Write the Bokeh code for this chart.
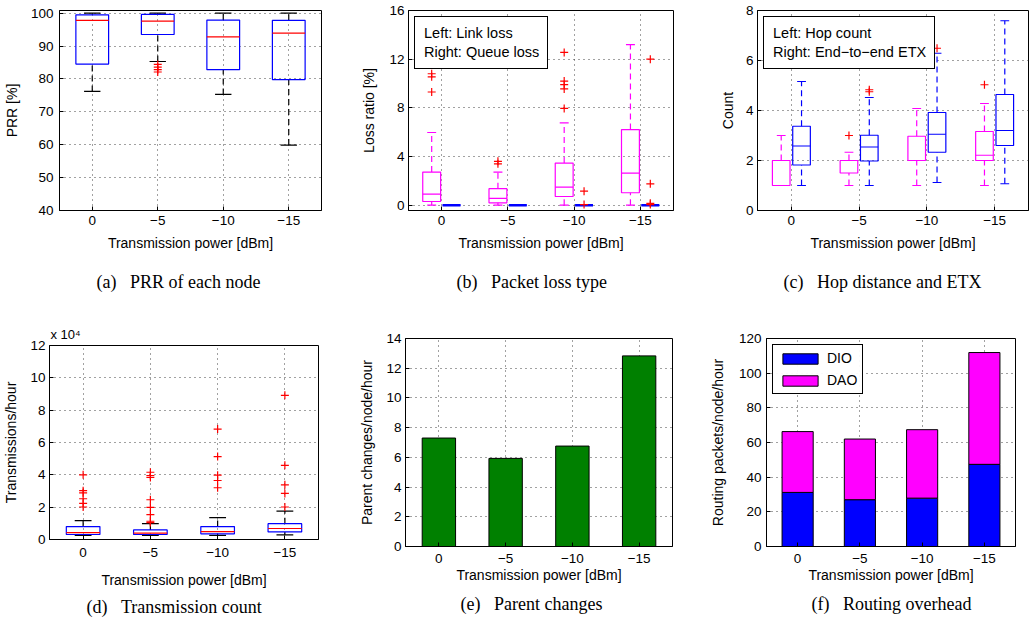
from bokeh.plotting import figure
from bokeh.layouts import column, row
from bokeh.models import (Range1d, FixedTicker, Title, Legend, LegendItem,
                          ColumnDataSource)
from bokeh.embed import file_html
from bokeh.resources import INLINE

# ---------------- data ----------------
powers = ["0", "\u22125", "\u221210", "\u221215"]
pos = [1, 2, 3, 4]

# (a) PRR of each node [%]
prr_q1 = [84.5, 93.5, 82.8, 79.8]
prr_med = [97.8, 97.6, 92.8, 93.9]
prr_q3 = [99.5, 99.6, 97.9, 97.8]
prr_lo = [76.2, 85.3, 75.3, 59.9]
prr_hi = [100.0, 100.0, 100.0, 100.0]
prr_out = [[], [84.4, 83.6, 82.8, 82.1], [], []]

# (b) packet loss type [%]
link_q1 = [0.30, 0.19, 0.71, 1.02]
link_med = [0.91, 0.55, 1.48, 2.64]
link_q3 = [2.72, 1.35, 3.46, 6.21]
link_lo = [0.0, 0.0, 0.0, 0.0]
link_hi = [5.97, 2.72, 6.76, 13.2]
link_out = [[10.8, 10.55, 9.3], [3.6, 3.4], [12.55, 10.2, 9.9, 9.55, 7.95], []]
queue_q1 = [0.0, 0.0, 0.0, 0.0]
queue_med = [0.0, 0.0, 0.0, 0.0]
queue_q3 = [0.0, 0.0, 0.0, 0.0]
queue_lo = [0.0, 0.0, 0.0, 0.0]
queue_hi = [0.0, 0.0, 0.0, 0.0]
queue_out = [[], [], [1.15, 0.05], [12.0, 1.75, 0.15, 0.05]]

# (c) hop distance and ETX
hop_q1 = [1.0, 1.5, 2.0, 2.0]
hop_med = [2.0, 2.0, 2.0, 2.21]
hop_q3 = [2.0, 2.0, 2.97, 3.16]
hop_lo = [1.0, 1.0, 1.0, 1.0]
hop_hi = [3.0, 2.33, 4.08, 4.28]
hop_out = [[], [3.0], [], [5.03]]
etx_q1 = [1.82, 1.98, 2.33, 2.6]
etx_med = [2.58, 2.54, 3.05, 3.2]
etx_q3 = [3.37, 3.01, 3.92, 4.64]
etx_lo = [1.0, 1.0, 1.12, 1.07]
etx_hi = [5.16, 4.52, 6.29, 7.59]
etx_out = [[], [4.83, 4.75], [6.49], []]

# (d) transmissions/hour (x 10^4)
tx_q1 = [0.31, 0.31, 0.35, 0.47]
tx_med = [0.43, 0.39, 0.49, 0.68]
tx_q3 = [0.80, 0.59, 0.80, 0.98]
tx_lo = [0.25, 0.25, 0.25, 0.29]
tx_hi = [1.17, 0.98, 1.35, 1.76]
tx_out = [[4.0, 3.02, 2.89, 2.52, 2.24, 2.01],
          [4.16, 3.96, 3.84, 2.46, 1.99, 1.54, 1.13, 1.05],
          [6.83, 5.13, 3.98, 3.65, 3.2],
          [8.92, 4.59, 3.38, 2.85, 2.01]]

# (e) parent changes/node/hour
parent = [7.3, 5.93, 6.76, 12.83]

# (f) routing packets/node/hour
dio = [31.2, 27.0, 27.9, 47.4]
dao = [35.1, 35.0, 39.5, 64.5]

SANS = "Liberation Sans"
SERIF = "Liberation Serif"
TICK_FS = "13.5px"
LAB_FS = "14px"
SP = "\u00a0\u00a0\u00a0"


def make_fig(width, height, mbl, mbr, mbt, mbb, yr, yticks, ylabel,
             ytick_so, ylab_so, xtick_so, xlab_so):
    p = figure(width=width, height=height, x_range=Range1d(0.5, 4.5),
               y_range=Range1d(*yr), output_backend="svg", toolbar_location=None,
               min_border_left=mbl, min_border_right=mbr, min_border_top=mbt,
               min_border_bottom=mbb)
    p.xaxis.ticker = FixedTicker(ticks=pos)
    p.xaxis.major_label_overrides = dict(zip(pos, powers))
    p.yaxis.ticker = FixedTicker(ticks=yticks)
    p.xaxis.axis_label = "Transmission power [dBm]"
    p.yaxis.axis_label = ylabel
    for ax in p.axis:
        ax.axis_line_color = "black"
        ax.major_tick_line_color = "black"
        ax.major_tick_in = 4
        ax.major_tick_out = 0
        ax.minor_tick_line_color = None
        ax.major_label_text_font = SANS
        ax.major_label_text_font_size = TICK_FS
        ax.major_label_text_color = "black"
        ax.axis_label_text_font = SANS
        ax.axis_label_text_font_size = LAB_FS
        ax.axis_label_text_font_style = "normal"
        ax.axis_label_text_color = "black"
    p.yaxis.major_label_standoff = ytick_so
    p.yaxis.axis_label_standoff = ylab_so
    p.xaxis.major_label_standoff = xtick_so
    p.xaxis.axis_label_standoff = xlab_so
    p.grid.grid_line_color = "#222222"
    p.grid.grid_line_dash = "1 4"
    p.grid.grid_line_alpha = 0.85
    p.outline_line_color = "black"
    p.outline_line_alpha = 1
    p.outline_line_width = 1
    p.background_fill_color = "white"
    p.border_fill_color = "white"
    return p


def caption(p, text, offset, standoff):
    t = Title(text=text, align="left", offset=offset, text_font=SERIF,
              text_font_size="18px", text_font_style="normal", text_color="black",
              standoff=standoff)
    p.add_layout(t, "below")


def boxplot(p, x, q1, med, q3, lo, hi, outs, w, box_c, med_c, wh_c, cap_c, box_lw=1.2):
    src = ColumnDataSource(dict(
        x=x, q1=q1, med=med, q3=q3, lo=lo, hi=hi,
        xl=[v - w / 2 for v in x], xr=[v + w / 2 for v in x],
        cl=[v - w / 4 for v in x], cr=[v + w / 4 for v in x]))
    lw = 1.2
    p.segment(x0="x", x1="x", y0="q3", y1="hi", line_color=wh_c, line_dash="6 4",
              line_width=lw, source=src)
    p.segment(x0="x", x1="x", y0="lo", y1="q1", line_color=wh_c, line_dash="6 4",
              line_width=lw, source=src)
    p.segment(x0="cl", x1="cr", y0="hi", y1="hi", line_color=cap_c, line_width=lw, source=src)
    p.segment(x0="cl", x1="cr", y0="lo", y1="lo", line_color=cap_c, line_width=lw, source=src)
    p.quad(left="xl", right="xr", bottom="q1", top="q3", fill_color=None,
           line_color=box_c, line_width=box_lw, source=src)
    p.segment(x0="xl", x1="xr", y0="med", y1="med", line_color=med_c, line_width=lw, source=src)
    ox = [x[i] for i, o in enumerate(outs) for _ in o]
    oy = [v for o in outs for v in o]
    p.scatter(ox, oy, marker="cross", size=8, line_color="red", line_width=1.2)


def text_legend(p, labels):
    dummy = p.scatter(x=[], y=[], alpha=0)
    lg = Legend(items=[LegendItem(label=l, renderers=[dummy]) for l in labels],
                location="top_left", glyph_width=0, glyph_height=14, label_height=14,
                label_standoff=1, padding=8, spacing=3, margin=6,
                border_line_color="black", border_line_width=1, border_line_alpha=1,
                label_text_font=SANS, label_text_font_size="14.5px",
                label_text_color="black", background_fill_alpha=1)
    p.add_layout(lg)


BLUE = "#0000FF"
RED = "#FF0000"
MAG = "#FF00FF"

# ---------------- row 1 ----------------
H1 = 320
pa = make_fig(358, H1, 58, 37, 10, 110, (40, 100.8), [40, 50, 60, 70, 80, 90, 100],
              "PRR [%]", 6, 8, 5, 7)
boxplot(pa, pos, prr_q1, prr_med, prr_q3, prr_lo, prr_hi, prr_out, 0.5,
        BLUE, RED, "black", "black")
caption(pa, "(a)" + SP + "PRR of each node", 37, 32)

pb = make_fig(357, H1, 45, 42, 10, 110, (-0.44, 16), [0, 4, 8, 12, 16],
              "Loss ratio [%]", 4, 9, 5, 7)
boxplot(pb, [v - 0.15 for v in pos], link_q1, link_med, link_q3, link_lo, link_hi,
        link_out, 0.27, MAG, MAG, MAG, MAG)
boxplot(pb, [v + 0.15 for v in pos], queue_q1, queue_med, queue_q3, queue_lo, queue_hi,
        queue_out, 0.27, BLUE, BLUE, BLUE, BLUE, box_lw=2.5)
text_legend(pb, ["Left: Link loss", "Right: Queue loss"])
caption(pb, "(b)" + SP + "Packet loss type", 48, 32)

pc = make_fig(315, H1, 42, 2, 10, 110, (0, 8), [0, 2, 4, 6, 8],
              "Count", 4, 7, 5, 7)
boxplot(pc, [v - 0.15 for v in pos], hop_q1, hop_med, hop_q3, hop_lo, hop_hi,
        hop_out, 0.26, MAG, MAG, MAG, MAG)
boxplot(pc, [v + 0.15 for v in pos], etx_q1, etx_med, etx_q3, etx_lo, etx_hi,
        etx_out, 0.26, BLUE, BLUE, BLUE, BLUE)
text_legend(pc, ["Left: Hop count", "Right: End\u2212to\u2212end ETX"])
caption(pc, "(c)" + SP + "Hop distance and ETX", 26, 32)

# ---------------- row 2 ----------------
H2 = 305
pd_ = make_fig(356, H2, 46, 38, 23, 86, (0, 12), [0, 2, 4, 6, 8, 10, 12],
               "Transmissions/hour", 4, 8, 8, 12)
pd_.title = Title(text="x 10\u2074", align="left", offset=1, text_font=SANS,
                  text_font_size="13px", text_font_style="normal", text_color="black",
                  standoff=8)
boxplot(pd_, pos, tx_q1, tx_med, tx_q3, tx_lo, tx_hi, tx_out, 0.5,
        BLUE, RED, "black", "black")
caption(pd_, "(d)" + SP + "Transmission count", 37, 8)

pe = make_fig(350, H2, 44, 34, 18, 79, (0, 14), [0, 2, 4, 6, 8, 10, 12, 14],
              "Parent changes/node/hour", 4, 8, 7, 1)
pe.vbar(x=pos, top=parent, width=0.5, fill_color="#008000", line_color="black",
        line_width=1)
caption(pe, "(e)" + SP + "Parent changes", 55, 12)

pf = make_fig(324, H2, 57, 15, 18, 79, (0, 120), [0, 20, 40, 60, 80, 100, 120],
              "Routing packets/node/hour", 5, 10, 7, 1)
src_f = ColumnDataSource(dict(x=pos, DIO=dio, DAO=dao))
rs = pf.vbar_stack(["DIO", "DAO"], x="x", width=0.5, fill_color=[BLUE, MAG],
                   line_color="black", line_width=1, source=src_f)
lg_f = Legend(items=[LegendItem(label="DIO", renderers=[rs[0]]),
                     LegendItem(label="DAO", renderers=[rs[1]])],
              location="top_left", glyph_width=44, glyph_height=13, label_height=13,
              label_standoff=5, padding=5, spacing=6, margin=6,
              border_line_color="black", border_line_width=1, border_line_alpha=1,
              label_text_font=SANS, label_text_font_size="14px", label_text_color="black")
pf.add_layout(lg_f)
caption(pf, "(f)" + SP + "Routing overhead", 45, 12)

layout = column(row(pa, pb, pc), row(column(pd_), column(pe), column(pf)))

open("out.html", "w").write(file_html(layout, INLINE))
